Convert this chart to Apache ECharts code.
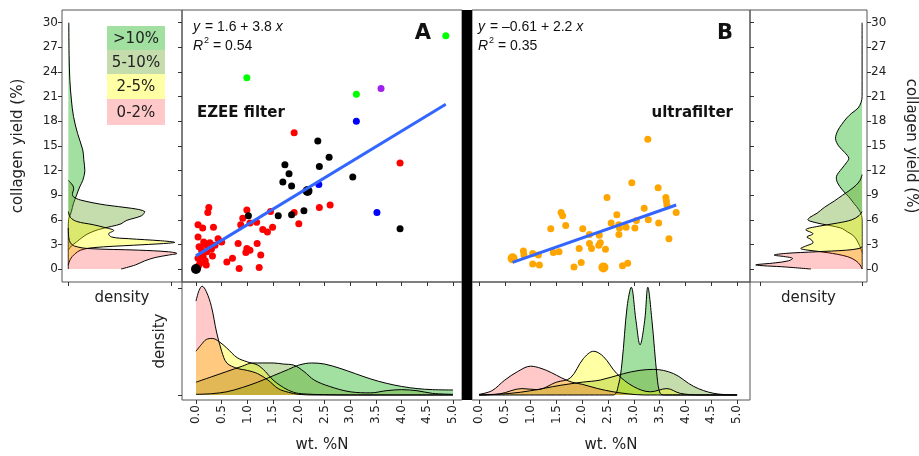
<!DOCTYPE html>
<html>
<head>
<meta charset="utf-8">
<script src="https://cdn.jsdelivr.net/npm/echarts@6/dist/echarts.min.js"></script>
<style>
  html, body { margin: 0; padding: 0; background: #fff; }
  #chart { width: 919px; height: 456px; }
</style>
</head>
<body>
<div id="chart"></div>
<script>
// ---- tick values ----
var yieldTicks = [0, 3, 6, 9, 12, 15, 18, 21, 24, 27, 30];
var nTicks = [0, 0.5, 1, 1.5, 2, 2.5, 3, 3.5, 4, 4.5, 5];
var densTicks = [0, 1];
var groups = ['>10%', '5-10%', '2-5%', '0-2%'];

// ---- scatter points, panel A (EZEE filter): [wt %N, collagen yield, n] ----
var ezeeRed = [[0.25,7.5],[0.23,6.9],[0.99,7.2],[0.91,6.2],[1.45,7.0],[0.04,5.4],[0.13,5.0],[0.34,5.1],
  [0.87,5.4],[1.05,5.6],[1.18,5.7],[1.30,4.8],[1.39,4.5],[1.49,5.1],[0.04,3.9],[0.43,3.7],[0.50,3.3],
  [0.27,3.2],[0.18,3.0],[0.37,2.9],[0.06,2.7],[0.11,2.3],[0.82,3.1],[1.19,3.1],[0.99,2.5],[1.05,2.3],
  [0.97,2.0],[1.26,1.7],[0.32,1.6],[0.14,1.5],[0.04,1.3],[0.18,1.0],[0.08,0.7],[0.71,1.3],[0.60,0.85],
  [0.84,0.05],[1.23,0.2],[1.91,6.9],[2.00,5.5],[2.40,7.5],[2.61,7.8],[1.91,16.6],[3.97,12.9],
  [0.21,2.1],[0.12,1.9],[0.25,2.6],[0.15,3.3],[0.30,2.4],[0.05,0.4],[0.20,0.5]];
var ezeeBlack = [[0,0,2],[2.17,9.5,2],[2.37,15.6],[1.73,12.7],[1.81,11.6],[1.69,10.6],[1.86,10.1],
  [2.40,12.5],[2.59,13.6],[3.05,11.2],[2.10,7.1],[1.86,6.6],[1.60,6.5],[1.02,6.5],[3.97,4.9]];
var ezeeBlue = [[3.12,18.0],[2.39,10.3],[3.52,6.9]];
var ezeeGreen = [[4.86,28.4],[0.99,23.3],[3.12,21.3]];
var ezeePurple = [[3.60,22.0]];
var fitA = [1.6, 3.8];

// ---- scatter points, panel B (ultrafilter) ----
var ultraOrange = [[3.27,15.8],[2.96,10.5],[3.47,9.9],[2.48,8.7],[3.62,8.7],[3.63,8.3],[3.64,7.8],
  [3.82,6.9],[3.20,7.4],[2.67,6.6],[1.59,6.9],[1.62,6.5],[1.68,5.3],[1.39,4.9],[2.01,4.9],[2.56,5.6],
  [2.71,5.4],[2.72,5.0],[2.85,5.1],[3.05,5.9],[3.02,5.0],[3.28,6.0],[3.48,5.6],[2.71,4.2],[2.14,4.2],
  [2.33,4.1],[2.35,3.2],[2.32,2.9],[2.14,3.1],[2.18,2.5],[2.45,2.4],[1.94,2.5],[3.68,3.7],[0.86,2.2],
  [0.87,1.7],[1.04,1.9],[1.15,1.7],[1.44,2.0],[1.55,2.1],[0.65,1.3,2],[1.04,0.6],[1.17,0.5],[1.84,0.24],
  [1.98,0.8],[2.41,0.2,2],[2.78,0.4],[2.88,0.7]];
var fitB = [-0.61, 2.2];

// ---- density of collagen yield, panel A (left side) ----
var aPinkY = [0,0.5,1.0,1.4,1.7,1.9,2.1,2.3,2.5,2.8,3.2,3.8,5];
var aPinkD = [0.51,0.65,0.74,0.84,0.97,1.05,0.97,0.68,0.19,0.06,0.02,0.005,0];
var aYellowY = [0.5,1.2,1.8,2.3,2.6,2.9,3.1,3.25,3.45,3.7,3.9,4.3,4.7,5.0,5.4,5.8,6.3,7];
var aYellowD = [0,0.02,0.06,0.12,0.24,0.63,0.92,1.03,0.89,0.58,0.42,0.39,0.44,0.37,0.24,0.08,0.02,0];
var aOliveY = [2.3,2.8,3.3,3.8,4.3,4.8,5.2,5.5,5.9,6.5,7.0,7.4,7.8,8.4,8.8,9.2,9.6,10.0,10.4,10.8];
var aOliveD = [0,0.03,0.08,0.13,0.19,0.29,0.42,0.51,0.56,0.71,0.74,0.61,0.36,0.12,0.05,0.04,0.05,0.05,0.03,0];
var aGreenY = [0,5,6,7,8,9,10,10.8,12,13.3,14.5,16.5,18.6,20.6,23,26,30];
var aGreenD = [0,0,0.003,0.03,0.05,0.08,0.11,0.14,0.16,0.15,0.14,0.09,0.05,0.03,0.015,0.008,0.005];

// ---- density of collagen yield, panel B (right side) ----
var bPinkY = [0,0.25,0.5,0.75,1.0,1.3,1.5,1.7,1.9,2.1,2.3,2.5,2.7];
var bPinkD = [0.5,0.75,1.04,0.85,0.72,0.68,0.75,0.86,0.75,0.45,0.15,0.03,0];
var bYellowY = [0,0.5,1,1.5,2,2.3,2.5,2.8,3.2,3.6,3.9,4.3,4.8,5.2,5.6,6.0,6.5,7];
var bYellowD = [0,0.02,0.06,0.14,0.34,0.53,0.6,0.55,0.48,0.5,0.54,0.48,0.55,0.43,0.24,0.1,0.03,0];
var bOliveY = [2,3,4,4.5,5,5.5,5.8,6.0,6.3,6.8,7.5,8.3,9.0,9.6,10.2,10.8,11.5];
var bOliveD = [0,0.03,0.08,0.14,0.21,0.4,0.5,0.53,0.51,0.44,0.37,0.27,0.19,0.12,0.06,0.02,0];
var bGreenY = [0,5.5,6.5,7.2,8.0,8.8,9.6,10.5,11.3,12.2,13.0,13.5,14.2,15.0,15.9,16.8,17.6,18.4,19.0,19.6,20.3,21,30];
var bGreenD = [0,0,0.005,0.03,0.08,0.13,0.19,0.24,0.25,0.2,0.15,0.13,0.17,0.23,0.26,0.24,0.2,0.15,0.1,0.04,0.01,0,0];

// ---- density of wt. %N, panel A (bottom) ----
var naPinkX = [0,0.06,0.12,0.2,0.3,0.4,0.5,0.6,0.8,1.0,1.2,1.4,1.6,1.8,2.0,2.3,5];
var naPinkD = [0.88,0.98,1.02,0.97,0.83,0.59,0.41,0.3,0.25,0.23,0.2,0.14,0.06,0.025,0.006,0,0];
var naYellowX = [0,0.1,0.2,0.32,0.45,0.6,0.8,1.0,1.2,1.35,1.5,1.7,1.9,2.1,2.5,3,5];
var naYellowD = [0.41,0.47,0.52,0.53,0.5,0.44,0.35,0.31,0.28,0.22,0.14,0.07,0.025,0.01,0.003,0,0];
var naOliveX = [0,0.3,0.6,0.9,1.1,1.3,1.5,1.7,1.9,2.1,2.3,2.6,3.0,3.4,3.7,4.0,4.3,4.6,5.0];
var naOliveD = [0.12,0.17,0.22,0.27,0.3,0.3,0.3,0.29,0.28,0.22,0.14,0.08,0.03,0.02,0.04,0.05,0.04,0.015,0.006];
var naGreenX = [0,0.3,0.6,0.9,1.2,1.5,1.8,2.0,2.25,2.5,2.8,3.1,3.4,3.7,4.0,4.3,4.6,5.0];
var naGreenD = [0.006,0.012,0.03,0.07,0.12,0.18,0.24,0.28,0.3,0.29,0.25,0.2,0.15,0.11,0.08,0.06,0.05,0.047];

// ---- density of wt. %N, panel B (bottom) ----
var nbPinkX = [0,0.25,0.5,0.75,1.0,1.2,1.4,1.6,1.8,2.0,2.3,2.6,2.9,3.2,5];
var nbPinkD = [0.006,0.04,0.14,0.22,0.27,0.25,0.21,0.16,0.12,0.1,0.06,0.03,0.01,0,0];
var nbYellowX = [0,0.4,0.83,1.12,1.5,1.77,2.02,2.22,2.41,2.67,2.99,3.32,3.64,3.9,4.3,5];
var nbYellowD = [0,0.01,0.06,0.05,0.12,0.16,0.34,0.41,0.36,0.2,0.08,0.03,0.06,0.015,0,0];
var nbOliveX = [0,0.6,1.0,1.57,2.0,2.35,2.8,3.1,3.38,3.77,4.16,4.55,5.0];
var nbOliveD = [0,0.015,0.04,0.09,0.12,0.14,0.2,0.23,0.24,0.2,0.08,0.015,0];
var nbGreenX = [0,2.6,2.7,2.77,2.87,2.95,3.04,3.12,3.21,3.27,3.35,3.45,3.51,3.6,5];
var nbGreenD = [0,0,0.09,0.3,0.83,1.01,0.7,0.47,0.7,1.01,0.7,0.17,0.015,0,0];

// fill colours for the groups (same order as groups)
var fills = ['rgba(30,180,30,0.42)', 'rgba(110,170,50,0.4)', 'rgba(255,255,0,0.36)', 'rgba(255,0,0,0.21)'];

var FONT = 'DejaVu Sans';
var EQFONT = 'Liberation Sans';
var FRAME = '#555';
var SM = 0.35;

function zip(a, b) { return a.map(function (v, i) { return [v, b[i]]; }); }

function fitLine(pts, fit) {
  var xs = pts.map(function (p) { return p[0]; });
  var x0 = Math.min.apply(null, xs), x1 = Math.max.apply(null, xs);
  return [[x0, fit[0] + fit[1] * x0], [x1, fit[0] + fit[1] * x1]];
}

// density drawn sideways (yield on y) : custom series through the axes
function sideDensity(idx, ys, ds, fill) {
  return {
    type: 'custom', xAxisIndex: idx, yAxisIndex: idx, data: [[0, 0]],
    silent: true, clip: true, z: 2,
    renderItem: function (params, api) {
      var pts = ys.map(function (y, i) { return api.coord([ds[i], y]); });
      var poly = pts.concat([api.coord([0, ys[ys.length - 1]]), api.coord([0, ys[0]])]);
      var cons = [poly[0], poly[0]];
      return { type: 'group', children: [
        { type: 'polygon', shape: { points: poly, smooth: SM, smoothConstraint: cons }, style: { fill: fill } },
        { type: 'polyline', shape: { points: pts, smooth: SM, smoothConstraint: cons },
          style: { fill: null, stroke: '#000', lineWidth: 1 } }
      ]};
    }
  };
}

function bottomDensity(idx, xs, ds, fill) {
  return {
    type: 'line', xAxisIndex: idx, yAxisIndex: idx, data: zip(xs, ds),
    symbol: 'none', smooth: SM, silent: true, z: 2,
    lineStyle: { color: '#000', width: 1 },
    areaStyle: { color: fill, opacity: 1 }
  };
}

function scatter(idx, pts, color) {
  return {
    type: 'scatter', xAxisIndex: idx, yAxisIndex: idx, data: pts, z: 3,
    symbolSize: function (v) { return v[2] > 1 ? 10 : 7; },
    itemStyle: { color: color, opacity: 1 }
  };
}

var tickStyle = { color: '#333', width: 1 };
var nameStyle = { fontFamily: FONT, fontSize: 15, color: '#222' };

function xAx(grid, min, max, ticks, opts) {
  var o = {
    gridIndex: grid, type: 'value', min: min, max: max, position: 'bottom',
    axisLine: { show: false, onZero: false }, splitLine: { show: false },
    axisTick: { show: true, customValues: ticks, length: 4, lineStyle: tickStyle },
    axisLabel: { show: false, customValues: ticks }
  };
  return Object.assign(o, opts || {});
}
function yAx(grid, min, max, ticks, pos, opts) {
  var o = {
    gridIndex: grid, type: 'value', min: min, max: max, position: pos,
    axisLine: { show: false, onZero: false }, splitLine: { show: false },
    axisTick: { show: ticks.length > 0, customValues: ticks, length: 4, lineStyle: tickStyle },
    axisLabel: { show: false, customValues: ticks }
  };
  return Object.assign(o, opts || {});
}

var yMin = -1.58, yMax = 31.55;
var nLabel = { show: true, customValues: nTicks, rotate: 90, margin: 5, fontFamily: FONT, fontSize: 12, color: '#222',
  formatter: function (v) { return v.toFixed(1); } };
var yLabel = { show: true, customValues: yieldTicks, margin: 4, fontFamily: FONT, fontSize: 12, color: '#222' };

var gridBox = { show: true, borderColor: FRAME, borderWidth: 1, backgroundColor: 'transparent', containLabel: false };

var option = {
  animation: false,
  backgroundColor: '#fff',
  grid: [
    Object.assign({ left: 62, top: 10, width: 120, height: 272 }, gridBox),
    Object.assign({ left: 182, top: 10, width: 280, height: 272 }, gridBox),
    Object.assign({ left: 472, top: 10, width: 278, height: 272 }, gridBox),
    Object.assign({ left: 750, top: 10, width: 119, height: 272 }, gridBox),
    Object.assign({ left: 182, top: 282, width: 280, height: 118 }, gridBox),
    Object.assign({ left: 472, top: 282, width: 278, height: 118 }, gridBox)
  ],
  xAxis: [
    xAx(0, -0.061, 1.10, densTicks, { name: 'density', nameLocation: 'middle', nameGap: 9, nameTextStyle: Object.assign({ verticalAlign: 'top' }, nameStyle) }),
    xAx(1, -0.272, 5.175, nTicks),
    xAx(2, -0.136, 5.25, nTicks),
    xAx(3, -0.048, 1.096, densTicks, { inverse: true, name: 'density', nameLocation: 'middle', nameGap: 9, nameTextStyle: Object.assign({ verticalAlign: 'top' }, nameStyle) }),
    xAx(4, -0.272, 5.175, nTicks, { axisLabel: nLabel, name: 'wt. %N', nameLocation: 'middle', nameGap: 38, nameTextStyle: nameStyle }),
    xAx(5, -0.136, 5.25, nTicks, { axisLabel: nLabel, name: 'wt. %N', nameLocation: 'middle', nameGap: 38, nameTextStyle: nameStyle })
  ],
  yAxis: [
    yAx(0, yMin, yMax, yieldTicks, 'left', { axisLabel: yLabel, name: 'collagen yield (%)', nameLocation: 'middle', nameRotate: 90, nameGap: 36, nameTextStyle: nameStyle }),
    yAx(1, yMin, yMax, yieldTicks, 'left'),
    yAx(2, yMin, yMax, yieldTicks, 'right'),
    yAx(3, yMin, yMax, yieldTicks, 'right', { axisLabel: yLabel, name: 'collagen yield (%)', nameLocation: 'middle', nameRotate: -90, nameGap: 36, nameTextStyle: nameStyle }),
    yAx(4, -0.047, 1.059, densTicks, 'left', { name: 'density', nameLocation: 'middle', nameRotate: 90, nameGap: 14, nameTextStyle: nameStyle }),
    yAx(5, -0.047, 1.059, [], 'left')
  ],
  series: [
    sideDensity(0, aGreenY, aGreenD, fills[0]),
    sideDensity(0, aOliveY, aOliveD, fills[1]),
    sideDensity(0, aYellowY, aYellowD, fills[2]),
    sideDensity(0, aPinkY, aPinkD, fills[3]),
    sideDensity(3, bGreenY, bGreenD, fills[0]),
    sideDensity(3, bOliveY, bOliveD, fills[1]),
    sideDensity(3, bYellowY, bYellowD, fills[2]),
    sideDensity(3, bPinkY, bPinkD, fills[3]),
    bottomDensity(4, naGreenX, naGreenD, fills[0]),
    bottomDensity(4, naOliveX, naOliveD, fills[1]),
    bottomDensity(4, naYellowX, naYellowD, fills[2]),
    bottomDensity(4, naPinkX, naPinkD, fills[3]),
    bottomDensity(5, nbGreenX, nbGreenD, fills[0]),
    bottomDensity(5, nbOliveX, nbOliveD, fills[1]),
    bottomDensity(5, nbYellowX, nbYellowD, fills[2]),
    bottomDensity(5, nbPinkX, nbPinkD, fills[3]),
    scatter(1, ezeeRed, '#ff0000'),
    scatter(1, ezeeBlack, '#000000'),
    scatter(1, ezeeBlue, '#0000ff'),
    scatter(1, ezeeGreen, '#00ff00'),
    scatter(1, ezeePurple, '#a020f0'),
    scatter(2, ultraOrange, '#ffa500'),
    { type: 'line', xAxisIndex: 1, yAxisIndex: 1, z: 4, symbol: 'none', silent: true,
      data: fitLine(ezeeRed.concat(ezeeBlack, ezeeBlue, ezeeGreen, ezeePurple), fitA),
      lineStyle: { color: '#3366ff', width: 3 } },
    { type: 'line', xAxisIndex: 2, yAxisIndex: 2, z: 4, symbol: 'none', silent: true,
      data: fitLine(ultraOrange, fitB),
      lineStyle: { color: '#3366ff', width: 3 } }
  ],
  graphic: []
};

// separator bar between the two filters
option.graphic.push({ type: 'rect', shape: { x: 462, y: 10, width: 10, height: 390 }, style: { fill: '#000' }, z: 10 });

// legend boxes
var legTop = [26, 50, 74, 99, 125];
groups.forEach(function (g, i) {
  option.graphic.push({ type: 'rect', shape: { x: 107, y: legTop[i], width: 58, height: legTop[i + 1] - legTop[i] },
    style: { fill: fills[i] }, z: 5 });
  option.graphic.push({ type: 'text', x: 136, y: (legTop[i] + legTop[i + 1]) / 2 + 1, z: 6,
    style: { text: g, fontFamily: FONT, fontSize: 15, fill: '#222', align: 'center', verticalAlign: 'middle' } });
});

// equation text, built from pieces (italic symbols, superscript)
var mctx = document.createElement('canvas').getContext('2d');
function textW(t, font) { mctx.font = font; return mctx.measureText(t).width; }
function pieces(x, y, parts) {
  parts.forEach(function (p) {
    var size = p.sup ? 9 : 14;
    var style = p.it ? 'italic' : 'normal';
    option.graphic.push({ type: 'text', x: x, y: p.sup ? y - 5 : y, z: 6,
      style: { text: p.t, fontFamily: EQFONT, fontSize: size, fontStyle: style, fill: '#111', verticalAlign: 'middle' } });
    x += textW(p.t, style + ' ' + size + 'px "' + EQFONT + '"') + (p.it ? 1 : 0);
  });
}
function eqText(x, fit, r2) {
  var aTxt = fit[0] < 0 ? '\u2013' + Math.abs(fit[0]) : String(fit[0]);
  pieces(x, 27, [{ t: 'y', it: true }, { t: ' = ' + aTxt + ' + ' + fit[1] + ' ' }, { t: 'x', it: true }]);
  pieces(x, 46, [{ t: 'R', it: true }, { t: '2', sup: true }, { t: ' = ' + r2 }]);
}
eqText(193, fitA, '0.54');
eqText(478, fitB, '0.35');

function label(txt, x, y, size, align) {
  option.graphic.push({ type: 'text', x: x, y: y, z: 6,
    style: { text: txt, fontFamily: FONT, fontWeight: 'bold', fontSize: size, fill: '#111', align: align, verticalAlign: 'middle' } });
}
label('A', 423, 34, 21, 'center');
label('B', 725, 34, 21, 'center');
label('EZEE filter', 197, 113, 15, 'left');
label('ultrafilter', 733, 113, 15, 'right');

var chart = echarts.init(document.getElementById('chart'));
chart.setOption(option);
</script>
</body>
</html>
